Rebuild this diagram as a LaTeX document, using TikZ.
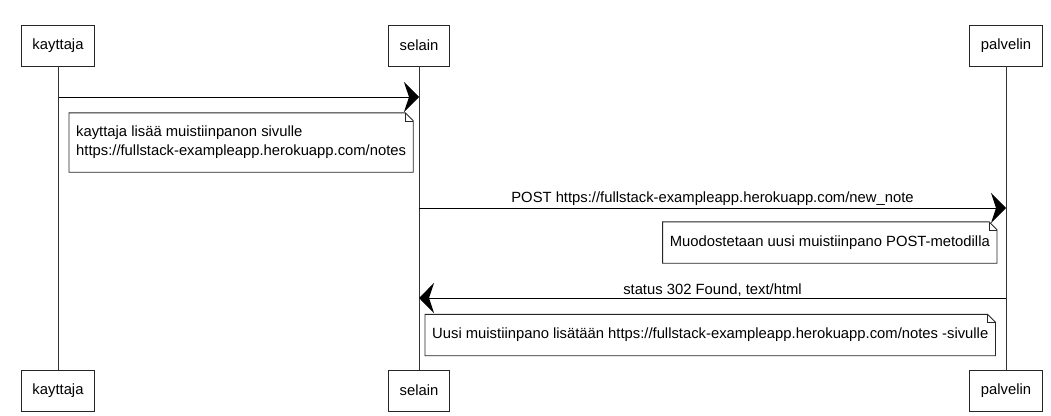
\documentclass[tikz,border=0pt]{standalone}
\usepackage{fontspec}
\setmainfont{Liberation Sans}
\usetikzlibrary{arrows.meta}
\begin{document}
\begin{tikzpicture}[x=1pt,y=-1pt,
  every node/.style={font=\fontsize{14.8}{19}\selectfont},
  actor/.style={draw=black!85,line width=0.9pt,minimum height=41pt,inner xsep=11pt,inner ysep=0pt,fill=white},
  lifeline/.style={draw=black!80,line width=0.8pt},
  msg/.style={draw=black,line width=1pt,-{Stealth[length=15pt,width=30pt,inset=5pt]}},
  notebox/.style={align=left,inner xsep=7pt,inner ysep=4pt,minimum height=41pt},
  outline/.style={draw=black!85,line width=0.9pt},
  lbl/.style={above,inner sep=1.5pt}
]
\useasboundingbox (0,0) rectangle (1051,415);
\fill[white] (0,0) rectangle (1051,415);

% actors top
\node[actor] (kt) at (58,45.5) {kayttaja};
\node[actor] (st) at (419,45.5) {selain};
\node[actor] (pt) at (1006,45.5) {palvelin};
% actors bottom
\node[actor] (kb) at (58,390.5) {kayttaja};
\node[actor] (sb) at (419,390.5) {selain};
\node[actor] (pb) at (1006,390.5) {palvelin};

% lifelines
\draw[lifeline] (kt.south) -- (kb.north);
\draw[lifeline] (st.south) -- (sb.north);
\draw[lifeline] (pt.south) -- (pb.north);

% message coordinates
\coordinate (k1) at (59,97);
\coordinate (s1) at (419,97);
\coordinate (s2) at (419,208);
\coordinate (p2) at (1006,208);
\coordinate (p3) at (1006,298);
\coordinate (s3) at (419,298);

\draw[msg] (k1) -- (s1);
\draw[msg] (s2) -- node[lbl] (l2) {POST https://fullstack-exampleapp.herokuapp.com/new\_note} (p2);
\draw[msg] (p3) -- node[lbl] (l3) {status 302 Found, text/html} (s3);

% notes
\node[notebox,anchor=west,minimum height=59pt] (n1) at (69,142.5) {kayttaja lisää muistiinpanon sivulle\\https://fullstack-exampleapp.herokuapp.com/notes};
\node[notebox,anchor=east] (n2) at (997,242.5) {Muodostetaan uusi muistiinpano POST-metodilla};
\node[notebox,anchor=west] (n3) at (425,335) {Uusi muistiinpano lisätään https://fullstack-exampleapp.herokuapp.com/notes -sivulle};

\foreach \n in {n1,n2,n3}{
  \draw[outline] (\n.north west) -- ([xshift=-8pt]\n.north east) -- ([yshift=-8pt]\n.north east) -- (\n.south east) -- (\n.south west) -- cycle;
  \draw[outline,line width=0.6pt] ([xshift=-8pt]\n.north east) -- ([xshift=-8pt,yshift=-8pt]\n.north east) -- ([yshift=-8pt]\n.north east);
}
\end{tikzpicture}
\end{document}
